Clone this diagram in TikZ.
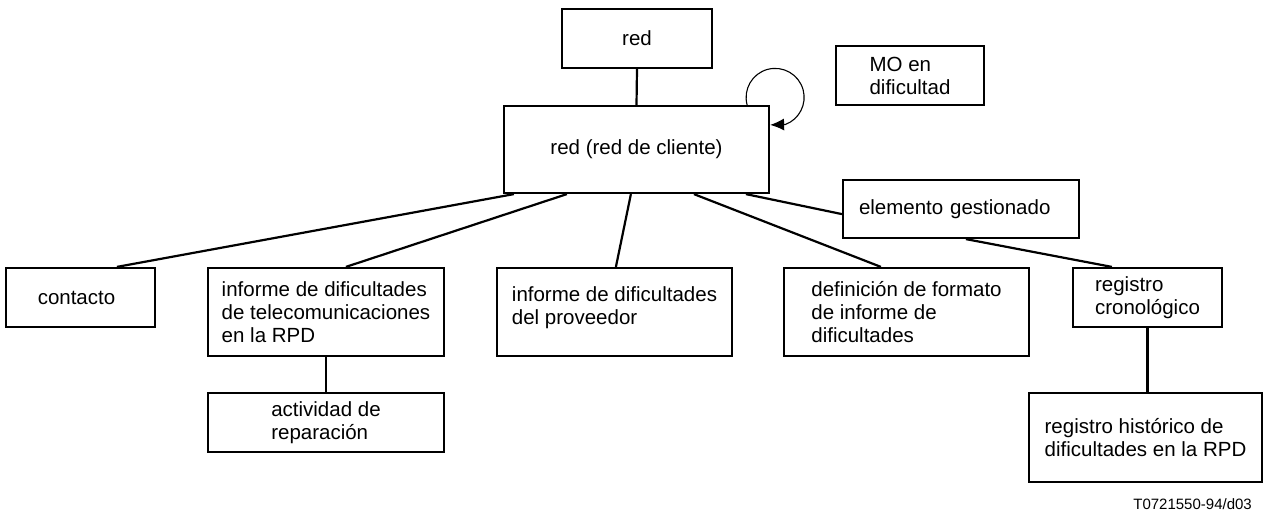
\documentclass[tikz,border=0pt]{standalone}
\usepackage{fontspec}
\setmainfont{Liberation Sans}
\usetikzlibrary{arrows.meta,calc}
\tikzset{
  box/.style={draw, line width=2.2pt, inner sep=0pt, align=left,
    font=\fontsize{20.5}{23}\selectfont},
  conn/.style={line width=2.2pt},
  loopline/.style={line width=1.1pt, -{Latex[length=14pt,width=12pt]}},
  caption/.style={font=\fontsize{15}{17}\selectfont, inner sep=0pt}
}
\begin{document}
\begin{tikzpicture}[x=1pt,y=-1pt]
\useasboundingbox (0,0) rectangle (1263,511);
% boxes
\node[box, minimum width=150pt, minimum height=59pt] (top) at (637,38.5) {red};
\node[box, minimum width=265pt, minimum height=87pt] (cl) at (636.5,149.5) {red (red de cliente)};
\node[box, minimum width=148pt, minimum height=59pt] (mo) at (910,75.5) {MO en\\dificultad};
\node[box, minimum width=236pt, minimum height=58pt, text width=204pt, inner xsep=16pt] (elem) at (961,209) {elemento gestionado};
\node[box, minimum width=149pt, minimum height=59pt] (ct) at (80.5,297.5) {\hspace*{-4pt}contacto\hspace*{4pt}};
\node[box, minimum width=236pt, minimum height=88pt] (tel) at (326,312) {informe de dificultades\\de telecomunicaciones\\en la RPD};
\node[box, minimum width=236pt, minimum height=59pt] (act) at (326,422.5) {actividad de\\reparación};
\node[box, minimum width=235pt, minimum height=88pt] (prov) at (614.5,312) {informe de dificultades\\del proveedor\\[-11pt]};
\node[box, minimum width=245pt, minimum height=88pt] (def) at (906.5,312) {definición de formato\\de informe de\\dificultades};
\node[box, minimum width=149pt, minimum height=59pt] (rc) at (1147.5,297.5) {registro\\cronológico};
\node[box, minimum width=233pt, minimum height=89pt] (rh) at (1145.5,437.5) {registro histórico de\\dificultades en la RPD};
\node[caption, anchor=east] (cap) at (1252,504) {T0721550-94/d03};
% connectors
\draw[conn] (top.south) -- (cl.north);
\draw[conn] ([xshift=11pt]cl.south west) -- ([xshift=112pt]ct.north west);
\draw[conn] ([xshift=64pt]cl.south west) -- ([xshift=139pt]tel.north west);
\draw[conn] ([xshift=128pt]cl.south west) -- ([xshift=120pt]prov.north west);
\draw[conn] ([xshift=191pt]cl.south west) -- ([xshift=98pt]def.north west);
\draw[conn] ([xshift=243pt]cl.south west) -- ([yshift=25pt]elem.south west);
\draw[conn] (tel.south) -- (act.north);
\draw[conn] ([xshift=124pt]elem.south west) -- ([xshift=40pt]rc.north west);
\draw[conn] (rc.south) -- (rc.south |- rh.north);
% self loop
\coordinate (ls) at ([xshift=-23pt]cl.north east);
\coordinate (le) at ([yshift=-20pt]cl.north east);
\draw[loopline] (ls) arc[start angle=165, end angle=429, radius=29] -- (le);
\end{tikzpicture}
\end{document}
